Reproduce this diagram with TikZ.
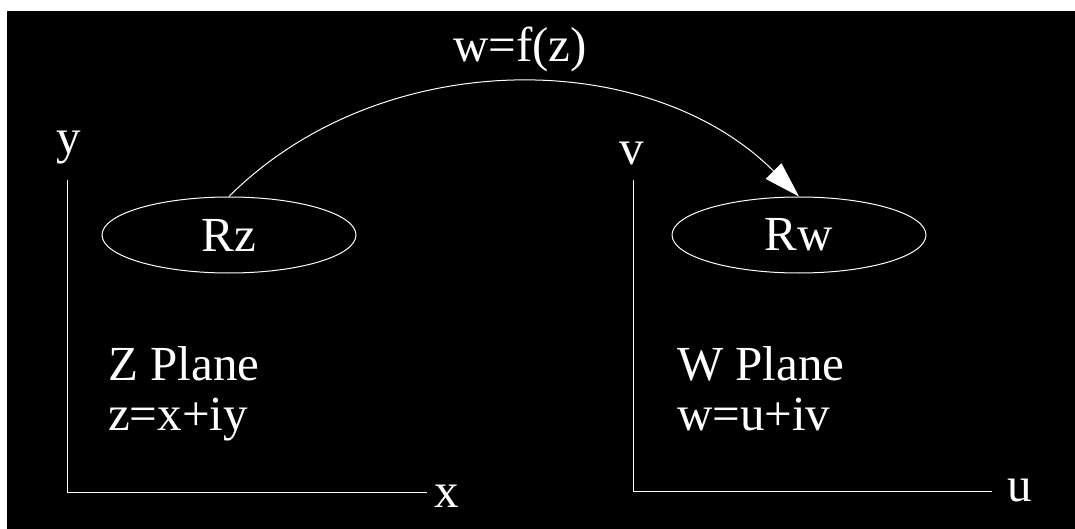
\documentclass[tikz,border=0pt]{standalone}
\usepackage{fontspec}
\setmainfont{Liberation Serif}
\usetikzlibrary{positioning,shapes.geometric,arrows.meta}

\begin{document}
\begin{tikzpicture}[x=1pt,y=-1pt,
  every node/.style={text=white,font=\fontsize{49}{55}\selectfont,inner sep=0pt},
  region/.style={ellipse,draw=white,line width=1pt,minimum width=254pt,minimum height=76pt},
  axis/.style={white,line width=1pt}]
\useasboundingbox (0,0) rectangle (1075,529);
\fill[black] (7,11) rectangle (1075,529);

% regions
\node[region] (Rz) at (229,235) {Rz};
\node[region] (Rw) at (799,235) {Rw};

% mapping
\node[anchor=base west] (map) at (453,62) {w=f(z)};
\draw[white,line width=1pt,-{Triangle[length=36pt,width=22pt]}]
  (Rz.north) .. controls +(151,-151) and +(-151,-151) .. (Rw.north);

% Z plane
\coordinate (zo) at (67,492);
\coordinate (ztop) at (67,180);
\coordinate (zend) at (427,492);
\draw[axis] (ztop) -- (zo) -- (zend);
\node[anchor=base] (ylab) at (68.5,154) {y};
\node[anchor=base] (xlab) at (446.5,507) {x};
\node[anchor=base west] (zname) at (108,380) {Z Plane};
\node[anchor=base west] (zeq) at (108,430) {z=x+iy};

% W plane
\coordinate (wo) at (633,491);
\coordinate (wtop) at (633,180);
\coordinate (wend) at (992,491);
\draw[axis] (wtop) -- (wo) -- (wend);
\node[anchor=base] (vlab) at (631.5,165) {v};
\node[anchor=base] (ulab) at (1019.5,501) {u};
\node[anchor=base west] (wname) at (677,380) {W Plane};
\node[anchor=base west] (weq) at (677,430) {w=u+iv};
\end{tikzpicture}
\end{document}
